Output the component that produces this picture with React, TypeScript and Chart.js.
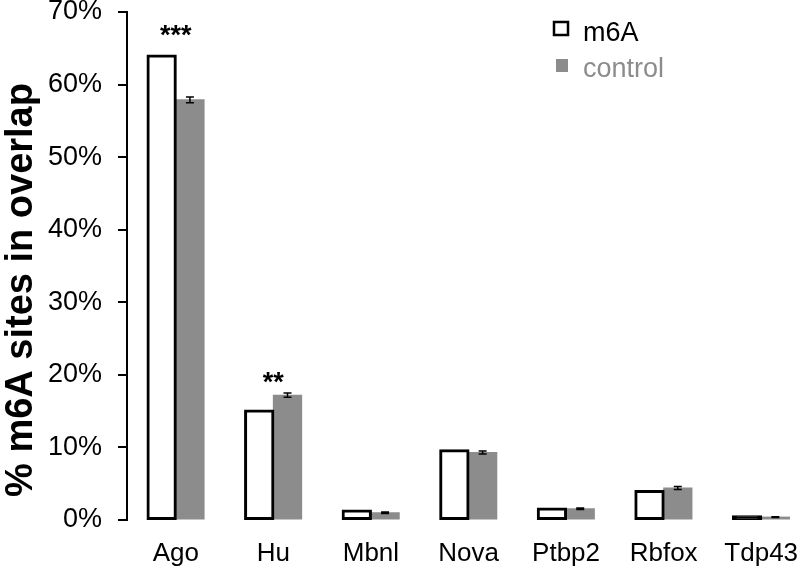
import React, { useEffect, useRef } from "react";
import { Chart, registerables } from "chart.js";

Chart.register(...registerables);

const categories = ["Ago", "Hu", "Mbnl", "Nova", "Ptbp2", "Rbfox", "Tdp43"];
const m6aValues = [64.0, 15.1, 1.3, 9.6, 1.6, 4.0, 0.5];
const controlValues = [57.9, 17.2, 1.0, 9.3, 1.55, 4.4, 0.4];
const controlErrors = [0.4, 0.3, 0.1, 0.2, 0.1, 0.2, 0.05];
const significance = ["***", "**", "", "", "", "", ""];
const yTicks = [0, 10, 20, 30, 40, 50, 60, 70];

const FONT = '"Liberation Sans", Arial, Helvetica, sans-serif';
const GRAY = "#8c8c8c";

const errorBarPlugin = {
  id: "errorBars",
  afterDatasetsDraw(chart: any) {
    const meta = chart.getDatasetMeta(1);
    const y = chart.scales.y;
    const ctx = chart.ctx;
    ctx.save();
    ctx.strokeStyle = "#000";
    ctx.lineWidth = 1.5;
    meta.data.forEach((bar: any, i: number) => {
      const v = controlValues[i];
      const e = controlErrors[i];
      const top = y.getPixelForValue(v + e);
      const bot = y.getPixelForValue(v - e);
      const x = bar.x;
      ctx.beginPath();
      ctx.moveTo(x, top);
      ctx.lineTo(x, bot);
      ctx.moveTo(x - 4, top);
      ctx.lineTo(x + 4, top);
      ctx.moveTo(x - 4, bot);
      ctx.lineTo(x + 4, bot);
      ctx.stroke();
    });
    ctx.restore();
  },
};

const starOffsets = [26, 16.5, 18, 18, 18, 18, 18];

const annotationPlugin = {
  id: "stars",
  afterDatasetsDraw(chart: any) {
    const y = chart.scales.y;
    const x = chart.scales.x;
    const ctx = chart.ctx;
    ctx.save();
    ctx.fillStyle = "#000";
    ctx.font = `bold 27px ${FONT}`;
    ctx.textAlign = "center";
    ctx.textBaseline = "alphabetic";
    significance.forEach((s, i) => {
      if (!s) return;
      const maxV = Math.max(m6aValues[i], controlValues[i] + controlErrors[i]);
      const cy = y.getPixelForValue(maxV) - starOffsets[i];
      ctx.fillText(s, x.getPixelForValue(i), cy + 14);
    });
    ctx.restore();
  },
};

const legendTitlePlugin = {
  id: "legendTitle",
  afterDraw(chart: any) {
    const ctx = chart.ctx;
    ctx.save();
    // legend
    ctx.fillStyle = "#fff";
    ctx.fillRect(554, 22, 14, 13);
    ctx.strokeStyle = "#000";
    ctx.lineWidth = 2.5;
    ctx.strokeRect(554, 22, 14, 13);
    ctx.fillStyle = GRAY;
    ctx.fillRect(556, 59, 12, 13);
    ctx.font = `27px ${FONT}`;
    ctx.textAlign = "left";
    ctx.textBaseline = "middle";
    ctx.fillStyle = "#000";
    ctx.fillText("m6A", 583, 34);
    ctx.fillStyle = GRAY;
    ctx.fillText("control", 583, 70);
    // y title
    ctx.translate(22, 290);
    ctx.rotate(-Math.PI / 2);
    ctx.font = `bold 38px ${FONT}`;
    ctx.fillStyle = "#000";
    ctx.textAlign = "center";
    ctx.textBaseline = "middle";
    ctx.fillText("% m6A sites in overlap", 0, 0);
    ctx.restore();
  },
};

export default function App() {
  const ref = useRef<HTMLCanvasElement | null>(null);
  useEffect(() => {
    if (!ref.current) return;
    const chart = new Chart(ref.current, {
      type: "bar",
      data: {
        labels: categories,
        datasets: [
          {
            label: "m6A",
            data: m6aValues,
            // very short bars are fully covered by the thick outline in the reference
            backgroundColor: (c: any) =>
              (c.raw ?? 1) < 0.8 ? "#000000" : "#ffffff",
            borderColor: "#000000",
            borderWidth: 3,
            borderSkipped: false,
            inflateAmount: 1,
            categoryPercentage: 0.58,
            barPercentage: 1,
          } as any,
          {
            label: "control",
            data: controlValues,
            backgroundColor: GRAY,
            borderWidth: 0,
            inflateAmount: 0.5,
            categoryPercentage: 0.58,
            barPercentage: 1,
          } as any,
        ],
      },
      options: {
        responsive: false,
        animation: false,
        layout: { padding: { top: 12, right: 3, left: 0, bottom: 0 } },
        plugins: {
          legend: { display: false },
          tooltip: { enabled: false },
        },
        scales: {
          x: {
            grid: { display: false, drawTicks: false },
            border: { display: false },
            ticks: {
              color: "#000",
              font: { family: FONT, size: 26 },
              padding: 18,
              maxRotation: 0,
            },
            afterFit: (s: any) => {
              s.height = 54;
              s.paddingLeft = 0;
              s.paddingRight = 0;
            },
          },
          y: {
            min: 0,
            max: 70,
            afterBuildTicks: (s: any) => {
              s.ticks = yTicks.map((v) => ({ value: v }));
            },
            grid: {
              drawOnChartArea: false,
              drawTicks: true,
              tickLength: 9,
              color: "#000",
              lineWidth: 2,
            },
            border: { display: true, color: "#000", width: 2 },
            ticks: {
              color: "#000",
              font: { family: FONT, size: 27 },
              padding: 16,
              callback: (v: any) => v + "%",
            },
            afterFit: (s: any) => {
              s.width = 127;
              s.paddingTop = 0;
              s.paddingBottom = 0;
            },
          },
        },
      },
      plugins: [errorBarPlugin, annotationPlugin, legendTitlePlugin],
    });
    return () => chart.destroy();
  }, []);
  return (
    <div
      style={{
        position: "fixed",
        left: 0,
        top: 0,
        width: 800,
        height: 574,
        overflow: "hidden",
        background: "#fff",
      }}
    >
      <canvas ref={ref} width={813} height={574} style={{ display: "block" }} />
    </div>
  );
}
